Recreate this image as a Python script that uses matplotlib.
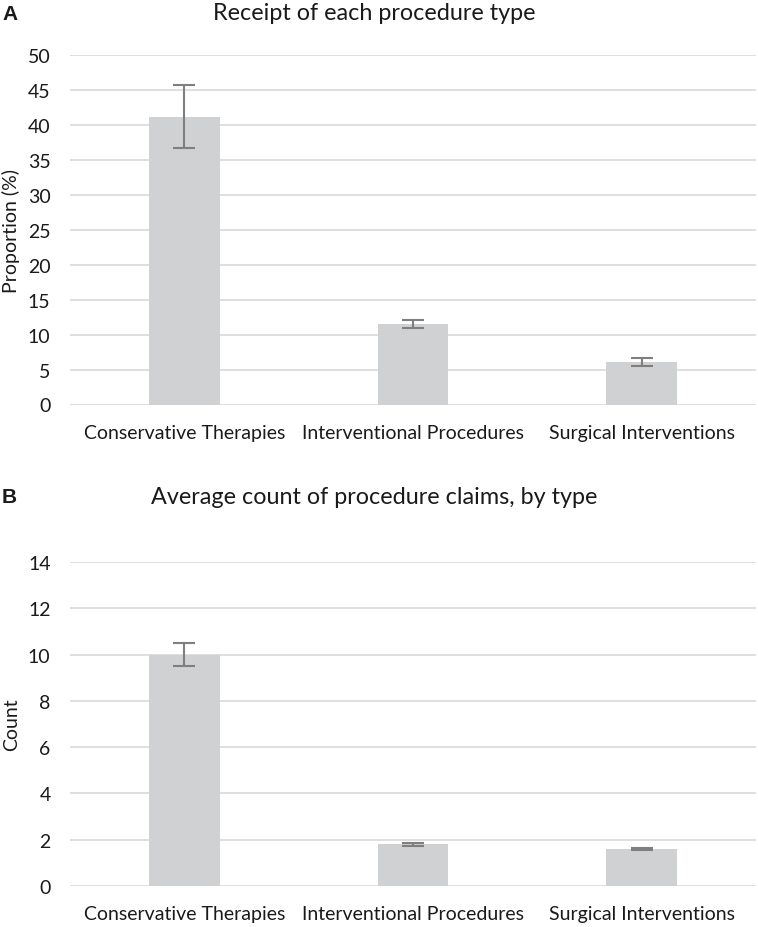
import matplotlib.pyplot as plt
import numpy as np

categories = ['Conservative Therapies', 'Interventional Procedures', 'Surgical Interventions']
proportion = [41.2, 11.5, 6.05]
proportion_err = [4.5, 0.6, 0.55]
counts = [10.0, 1.8, 1.6]
counts_err = [0.5, 0.06, 0.06]

plt.rcParams['font.family'] = ['Lato', 'DejaVu Sans']
txt = '#1a1a1a'
bar_col = '#d0d1d3'
err_col = '#7f7f7f'
grid_col = '#d9d9d9'

W, H = 758, 928
fig = plt.figure(figsize=(W/100, H/100), dpi=100)


def px_axes(left, top, right, bottom):
	return fig.add_axes([left/W, 1-bottom/H, (right-left)/W, (bottom-top)/H])


def panel(ax, vals, errs, ymax, step, ylab):
	x = np.arange(len(categories))
	ax.bar(x, vals, width=0.31, color=bar_col, zorder=2)
	ax.errorbar(x, vals, yerr=errs, fmt='none', ecolor=err_col, elinewidth=1.5,
				capsize=8, capthick=1.5, zorder=3)
	ax.set_xlim(-0.5, len(categories)-0.5)
	ax.set_ylim(0, ymax)
	ax.set_yticks(np.arange(0, ymax+step/2, step))
	ax.yaxis.grid(True, color=grid_col, linewidth=1.2, zorder=0)
	for s in ax.spines.values():
		s.set_visible(False)
	ax.tick_params(length=0, labelsize=14, colors=txt)
	ax.tick_params(axis='y', pad=14)
	ax.tick_params(axis='x', pad=14)
	ax.set_xticks(x)
	ax.set_xticklabels(categories)
	ax.set_ylabel(ylab, fontsize=14, color=txt)
	# label sits near the left edge of the figure
	ax.yaxis.set_label_coords(-50/686, 0.5)


axA = px_axes(70, 56, 756, 405.5)
panel(axA, proportion, proportion_err, 50, 5, 'Proportion (%)')
axB = px_axes(70, 563, 756, 887)
panel(axB, counts, counts_err, 14, 2, 'Count')

fig.text(374/W, 1-14/H, 'Receipt of each procedure type', ha='center', va='center',
		 fontsize=16.8, color=txt)
fig.text(374/W, 1-498/H, 'Average count of procedure claims, by type', ha='center', va='center',
		 fontsize=16.8, color=txt)
fig.text(2/W, 1-14/H, 'A', ha='left', va='center', fontsize=15, fontweight='bold',
		 family='Liberation Sans', color=txt)
fig.text(2/W, 1-498/H, 'B', ha='left', va='center', fontsize=15, fontweight='bold',
		 family='Liberation Sans', color=txt)

fig.savefig('out.png', dpi=100)
